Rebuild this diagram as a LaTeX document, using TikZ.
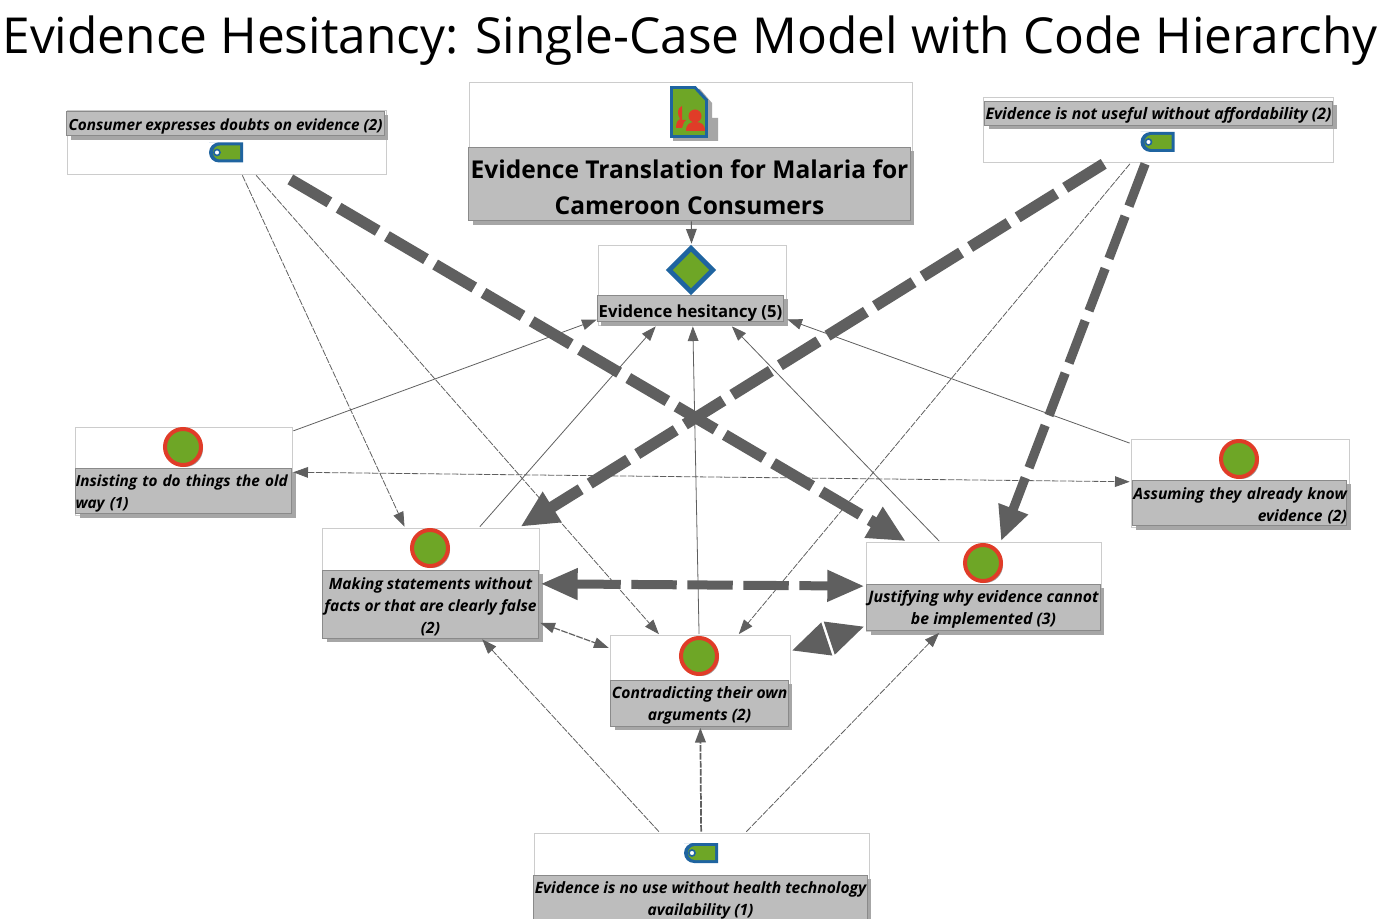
\documentclass[tikz,border=0pt]{standalone}
\usepackage{fontspec}
\setmainfont{Open Sans}
\usetikzlibrary{arrows.meta,shapes.geometric,shadows}
\definecolor{flowgray}{HTML}{5F5F5F}
\definecolor{lblgray}{HTML}{BDBDBD}
\definecolor{lbledge}{HTML}{8A8A8A}
\definecolor{shadegray}{HTML}{A6A6A6}
\definecolor{cellgreen}{HTML}{6EA626}
\definecolor{cellblue}{HTML}{1F64A0}
\definecolor{cellred}{HTML}{E03C28}
\newcommand{\lowline}{\rule{0pt}{1.02em}}
\tikzset{
    cellbox/.style={draw=black!20, fill=white, line width=.7pt, outer sep=1pt, inner sep=0pt},
    lblbox/.style={draw=lbledge, fill=lblgray, text=black, line width=.7pt, inner sep=0pt, align=center,
        execute at begin node={\rule{0pt}{1.1em}},
        drop shadow={shadow xshift=3pt, shadow yshift=-3pt, fill=shadegray, opacity=1}},
    lowtext/.style={execute at begin node={\rule{0pt}{#1}}},
    codelbl/.style={lblbox, font=\fontsize{#1}{16.5}\selectfont\bfseries\itshape},
    codelbl/.default=11.5,
    codedot/.style={circle, draw=cellred, fill=cellgreen, line width=3pt, minimum size=27pt, inner sep=0pt,
        drop shadow={shadow xshift=1.5pt, shadow yshift=-1.5pt, fill=shadegray, opacity=1}},
    thinflow/.style={draw=flowgray, line width=.6pt, {Triangle[length=11pt,width=8pt]}-{Triangle[length=11pt,width=8pt]}},
    thinsolid/.style={thinflow, {}-{Triangle[length=11pt,width=8pt]}},
    thindash/.style={thinflow, dash pattern=on 5pt off 1pt},
    thindashto/.style={thinsolid, dash pattern=on 5pt off 1pt},
    heavyflow/.style={draw=flowgray, line width=#1, dash pattern=on 34pt off 8pt},
    tagicon/.pic={
        \fill[cellblue] (-17,-10) -- (17,-10) -- (17,10) -- (-7,10) arc (90:270:10) -- cycle;
        \fill[cellgreen] (-6,-7) -- (14,-7) -- (14,7) -- (-6,7) arc (90:270:7) -- cycle;
        \fill[white, draw=cellblue, line width=1.2pt] (-9,0) circle (3);
    }
}
\begin{document}
\begin{tikzpicture}[x=.75pt, y=-.75pt, flowgray]
    \useasboundingbox (0,0) rectangle (1379,919);
    \node[black, font=\fontsize{37.2}{44}\selectfont] (title) at (690,41) {Evidence Hesitancy: Single-Case Model with Code Hierarchy};

    % outer boxes
    \foreach \name/\cx/\cy/\w/\h in {
        consumer/227/142/319/64, translation/690.5/151/443/138, hesitancy/692/285/188/80,
        affordable/1158/130/350/65, insisting/183.5/471/217/88, assuming/1240/483/218/88,
        making/430.5/583/217/110, justifying/983.5/587/235/89, contradicting/700/681/180/91,
        technology/701.5/878/335/90}
    {
        \node[cellbox, minimum width=\w*.75pt, minimum height=\h*.75pt] (\name) at (\cx,\cy) {};
    }

    % labels
    \node[codelbl, minimum width=238pt, minimum height=18.7pt] (consumerlbl) at (225.5,123.5) {Consumer expresses doubts on evidence (2)};
    \node[lblbox, minimum width=331pt, minimum height=55pt, font=\fontsize{18.4}{27}\selectfont\bfseries] (translationlbl) at (689.5,184) {\lowline Evidence Translation for Malaria for\\Cameroon Consumers};
    \node[lblbox, lowtext=1.35em, minimum width=140pt, minimum height=20pt, font=\fontsize{12.5}{16}\selectfont\bfseries] (hesitancylbl) at (690.5,308.5) {Evidence hesitancy (5)};
    \node[codelbl=11.9, minimum width=261pt, minimum height=18pt] (affordablelbl) at (1158.5,113) {Evidence is not useful without affordability (2)};
    \node[codelbl, text width=162pt, minimum height=34pt, align=left] (insistinglbl) at (183.5,491) {Insisting to do things the old\\way (1)};
    \node[codelbl=11.7, text width=161pt, minimum height=34pt, align=right] (assuminglbl) at (1239.5,503) {Assuming they already know\\evidence (2)};
    \node[codelbl=11.65, minimum width=162pt, minimum height=51pt] (makinglbl) at (430.5,604.5) {\lowline Making statements without\\facts or that are clearly false\\(2)};
    \node[codelbl=11.85, minimum width=175pt, minimum height=35pt] (justifyinglbl) at (983.5,607.5) {\lowline Justifying why evidence cannot\\be implemented (3)};
    \node[codelbl=11.75, minimum width=133pt, minimum height=34.5pt] (contradictinglbl) at (699.5,703) {\lowline Contradicting their own\\arguments (2)};
    \node[codelbl=11.7, minimum width=250pt, minimum height=34pt] (technologylbl) at (700.5,898) {\lowline Evidence is no use without health technology\\availability (1)};

    % icons
    \pic at (226,152.5) {tagicon};
    \pic at (1157.5,142) {tagicon};
    \pic at (701,853) {tagicon};
    \node[codedot] (insistingdot) at (183,447) {};
    \node[codedot] (assumingdot) at (1239,459) {};
    \node[codedot] (makingdot) at (430,548) {};
    \node[codedot] (justifyingdot) at (983,563) {};
    \node[codedot] (contradictingdot) at (699,656) {};
    \node[diamond, draw=cellblue, fill=cellgreen, line width=3.6pt, minimum size=34pt, inner sep=0pt] (hesitancyicon) at (691,270) {};
    % document icon
    \fill[shadegray] (673,141) -- (718,141) -- (718,118) -- (712,118) -- (712,103) -- (700,89) -- (673,89) -- cycle;
    \fill[cellgreen, draw=cellblue, line width=2.2pt] (671.5,87.5) -- (695,87.5) -- (706.5,100) -- (706.5,136.5) -- (671.5,136.5) -- cycle;
    \fill[cellred] (695,116) circle (6.5);
    \fill[cellred] (686,131) .. controls (686,124) and (690,122) .. (695,122) .. controls (701,122) and (705,124) .. (705,131) -- cycle;
    \fill[cellred] (682,106) -- (682,120) -- (686,120) -- (684,122) -- (682,128) -- (676,128) .. controls (676,122) and (678,120) .. (680,119) .. controls (677,114) and (677,108) .. (682,106);

    % connectors
    \draw[thinsolid, line width=.8pt] (translation) -- (hesitancy);
    \foreach \from in {insisting,making,contradicting,justifying,assuming}
    {
        \draw[thinsolid] (\from) -- (hesitancy);
    }
    \draw[thindashto] (consumer) -- (making);
    \draw[thindashto] (consumer) -- (contradicting);
    \draw[thindashto] (affordable) -- (contradicting);
    \draw[thindashto] (technology) -- (making);
    \draw[thindashto, line width=1.3pt] (technology) -- (contradicting);
    \draw[thindashto] (technology) -- (justifying);
    \draw[thindash] (insisting) -- (assuming);
    \draw[thindash, line width=.9pt] (making) -- (contradicting);

    \draw[heavyflow=8.5pt, -{Triangle[length=28pt,width=25pt]}, shorten <=6pt] (consumer) -- (justifying);
    \draw[heavyflow=8.5pt, -{Triangle[length=28pt,width=25pt]}] (affordable) -- (making);
    \draw[heavyflow=7pt, -{Triangle[length=26pt,width=22pt]}] (affordable) -- (justifying);
    \draw[heavyflow=6.75pt, {Triangle[length=28pt,width=22pt]}-{Triangle[length=28pt,width=22pt]}] (making) -- (justifying);
    \draw[flowgray, line width=6.75pt, dash pattern=on 0pt off 20pt, {Triangle[length=28pt,width=24pt]}-{Triangle[length=28pt,width=24pt]}] (contradicting) -- (justifying);
\end{tikzpicture}
\end{document}
